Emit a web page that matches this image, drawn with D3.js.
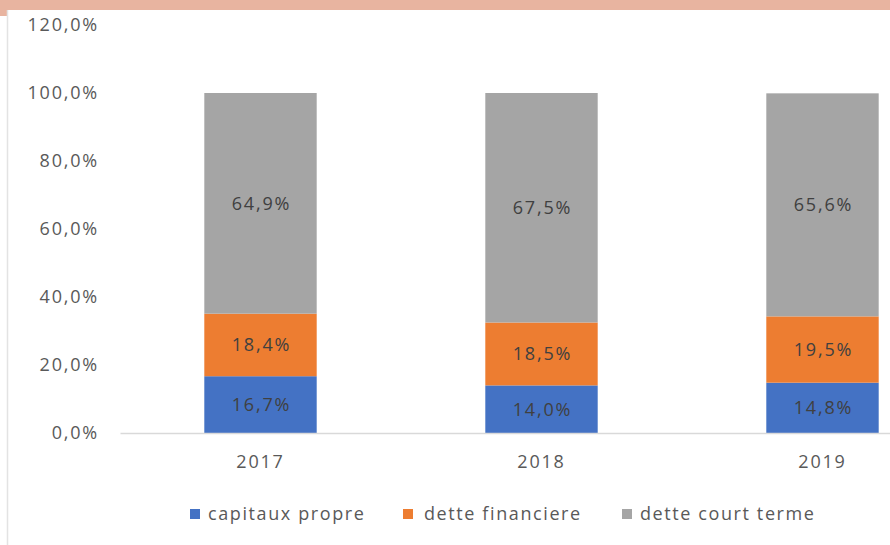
<!DOCTYPE html>
<html>
<head>
<meta charset="utf-8">
<script src="https://cdn.jsdelivr.net/npm/d3@7"></script>
<style>
  body { margin: 0; background: #fff; }
  svg { display: block; font-family: "Open Sans", sans-serif; }
</style>
</head>
<body>
<div id="chart"></div>
<script>
// Data
const years = ['2017', '2018', '2019'];
const seriesNames = ['capitaux propre', 'dette financiere', 'dette court terme'];
const capitauxPropre = [16.7, 14.0, 14.8];
const detteFinanciere = [18.4, 18.5, 19.5];
const detteCourtTerme = [64.9, 67.5, 65.6];
const yTicks = [0, 20, 40, 60, 80, 100, 120];
const colors = ['#4472C4', '#ED7D31', '#A5A5A5'];

const width = 890;
const height = 545;

const rows = years.map((y, i) => ({
    year: y,
    'capitaux propre': capitauxPropre[i],
    'dette financiere': detteFinanciere[i],
    'dette court terme': detteCourtTerme[i],
}));

const svg = d3.select('#chart')
    .append('svg')
    .attr('width', width)
    .attr('height', height);

// frame: salmon top band and thin left border
svg.append('rect').attr('x', 0).attr('y', 0).attr('width', width).attr('height', 10).attr('fill', '#E8B4A0');
svg.append('rect').attr('x', 0).attr('y', 10).attr('width', 7).attr('height', 6).attr('fill', '#E8B4A0');
svg.append('line').attr('x1', 7.5).attr('x2', 7.5).attr('y1', 10).attr('y2', height)
    .attr('stroke', '#e3e3e3').attr('stroke-width', 1.5);

// scales (plot area runs past the right edge, as in the reference)
const xScale = d3.scaleBand().domain(years).range([120, 963]).paddingInner(0.6).paddingOuter(0.3);
const yScale = d3.scaleLinear().domain([0, 120]).range([433, 25]);

const fmt = (v) => d3.format('.1f')(v).replace('.', ',') + '%';

// y axis labels
const yAxis = d3.axisLeft(yScale).tickValues(yTicks).tickSize(0).tickPadding(0).tickFormat(fmt);
svg.append('g')
    .attr('transform', 'translate(99,0)')
    .call(yAxis)
    .call((g) => g.select('.domain').remove())
    .selectAll('text')
    .attr('fill', '#595959')
    .attr('font-size', 18)
    .attr('letter-spacing', 1.8)
    .attr('font-family', '"Open Sans", sans-serif');

// stacked bars
const stack = d3.stack().keys(seriesNames);
const stacked = stack(rows);

const layers = svg.append('g').attr('class', 'bars')
    .selectAll('g')
    .data(stacked)
    .join('g')
    .attr('fill', (d, i) => colors[i]);

layers.selectAll('rect')
    .data((d) => d)
    .join('rect')
    .attr('x', (d) => xScale(d.data.year))
    .attr('width', xScale.bandwidth())
    .attr('y', (d) => yScale(d[1]))
    .attr('height', (d) => yScale(d[0]) - yScale(d[1]));

layers.selectAll('text')
    .data((d) => d)
    .join('text')
    .attr('x', (d) => xScale(d.data.year) + xScale.bandwidth() / 2 + 1)
    .attr('y', (d) => yScale((d[0] + d[1]) / 2))
    .attr('dy', '0.35em')
    .attr('text-anchor', 'middle')
    .attr('fill', '#404040')
    .attr('font-size', 18)
    .attr('letter-spacing', 1.8)
    .text((d) => fmt(d[1] - d[0]));

// x axis
const xAxis = d3.axisBottom(xScale).tickSize(0).tickPadding(22);
svg.append('g')
    .attr('transform', 'translate(0,433)')
    .call(xAxis)
    .call((g) => g.select('.domain').attr('stroke', '#d9d9d9').attr('stroke-width', 1.5))
    .selectAll('text')
    .attr('fill', '#595959')
    .attr('font-size', 18)
    .attr('letter-spacing', 1.8)
    .attr('font-family', '"Open Sans", sans-serif');

// legend
const legendX = [190, 403, 622];
const legend = svg.append('g').attr('class', 'legend')
    .selectAll('g')
    .data(seriesNames)
    .join('g')
    .attr('transform', (d, i) => `translate(${legendX[i]},514)`);

legend.append('rect')
    .attr('x', 0).attr('y', -5)
    .attr('width', 10).attr('height', 10)
    .attr('fill', (d, i) => colors[i]);

legend.append('text')
    .attr('x', (d, i) => i === 1 ? 21 : 18)
    .attr('dy', '0.35em')
    .attr('fill', '#595959')
    .attr('font-size', 18)
    .attr('letter-spacing', 1.6)
    .text((d) => d);
</script>
</body>
</html>
